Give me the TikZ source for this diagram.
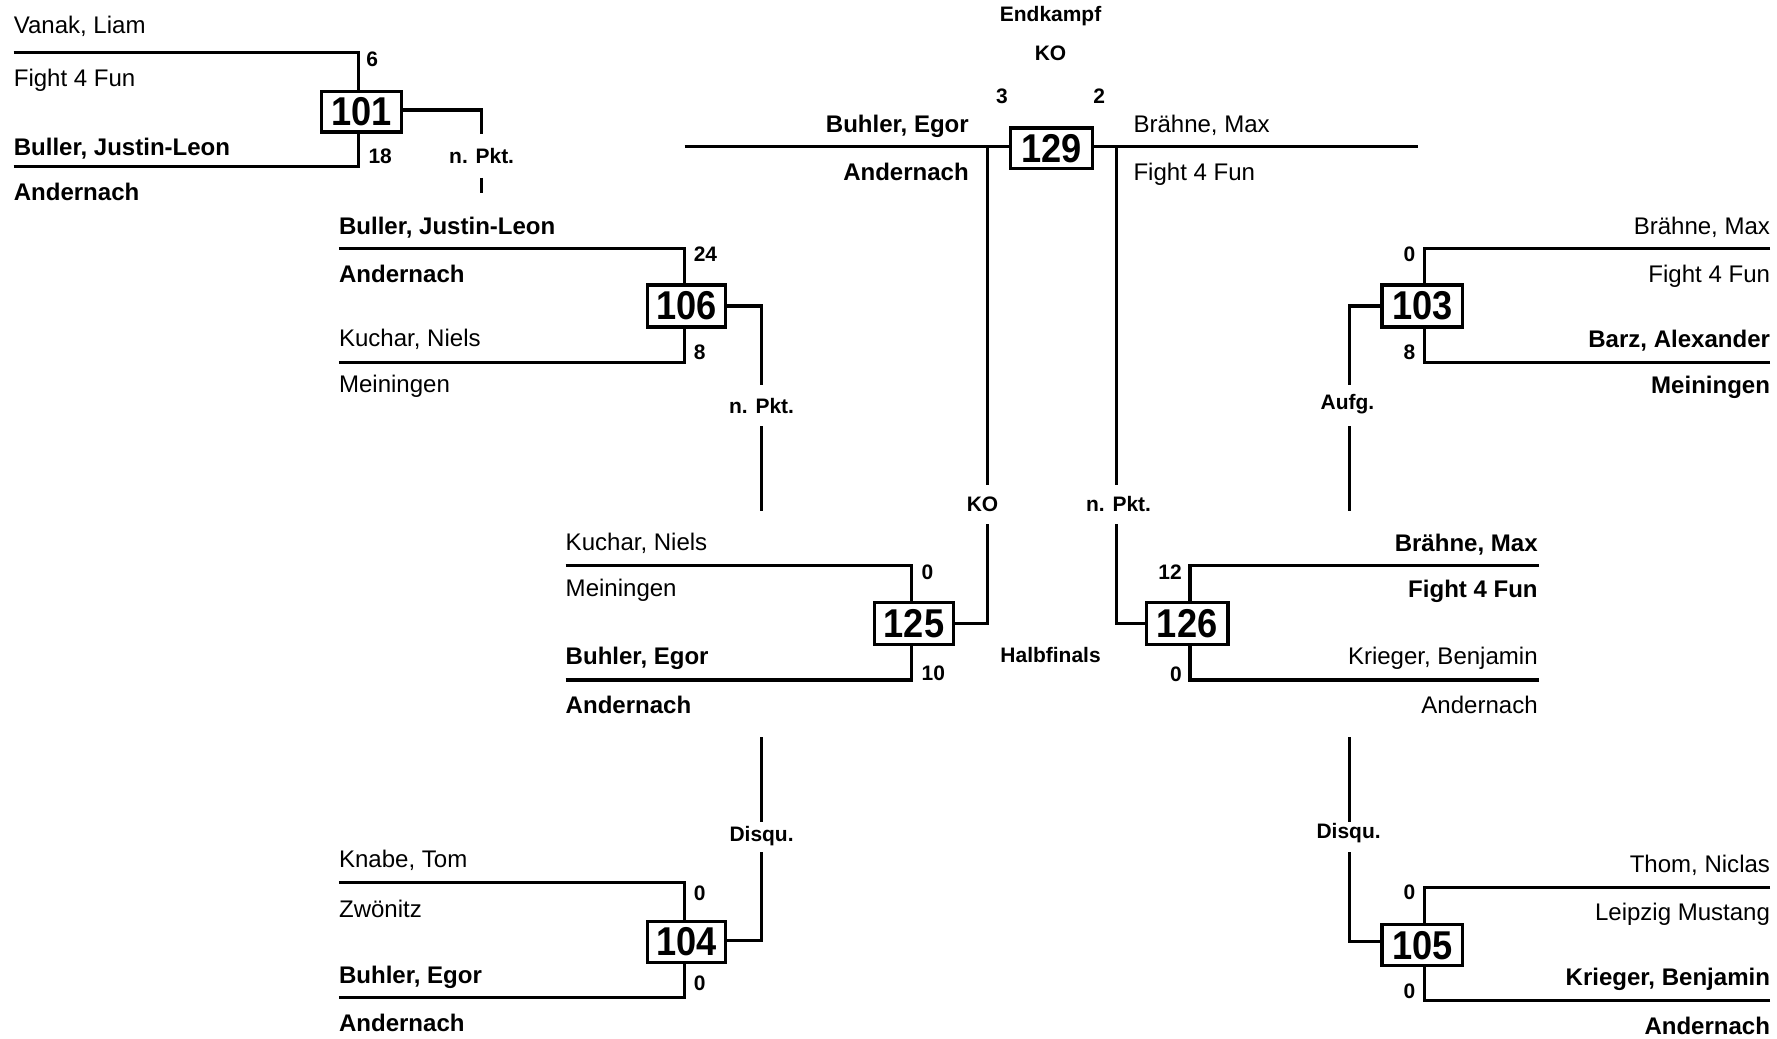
\documentclass[tikz,border=0pt]{standalone}
\usepackage{fontspec}
\setmainfont{Liberation Sans}
\newfontfamily\boxfont[FakeStretch=0.9]{Liberation Sans}
\begin{document}
\begin{tikzpicture}[x=1pt,y=-1pt,
  ln/.style={line width=2.8pt, line join=miter},
  nm/.style={inner sep=0pt, font=\fontsize{21.2}{24}\selectfont},
  nmb/.style={inner sep=0pt, font=\fontsize{21.2}{24}\selectfont\bfseries},
  lb/.style={inner sep=0pt, font=\fontsize{18.5}{21}\selectfont\bfseries},
  mbox/.style={draw, line width=2.8pt, fill=white, inner sep=0pt, minimum width=69pt, minimum height=36pt, font=\boxfont\fontsize{35.5}{40}\selectfont\bfseries},
  L/.style={anchor=base west},
  R/.style={anchor=base east}]
\useasboundingbox (0,0) rectangle (1568,916);

% ---------- line coordinates ----------
% 101
\coordinate (a1) at (12,46);  \coordinate (a2) at (316,46);
\coordinate (a3) at (12,147); \coordinate (a4) at (316,147);
\coordinate (a5) at (425,97); \coordinate (a6) at (425,118);
\coordinate (a7) at (425,157); \coordinate (a8) at (425,170);
% 106
\coordinate (b1) at (299,219); \coordinate (b2) at (604,219);
\coordinate (b3) at (299,320); \coordinate (b4) at (604,320);
\coordinate (b5) at (672,270); \coordinate (b6) at (672,340);
\coordinate (b7) at (672,376); \coordinate (b8) at (672,451);
% 125
\coordinate (c1) at (499,499); \coordinate (c2) at (804,499);
\coordinate (c3) at (499,600); \coordinate (c4) at (804,600);
\coordinate (c5) at (871,550); \coordinate (c6) at (871,462);
\coordinate (c7) at (871,428); \coordinate (c8) at (871,129);
% 104
\coordinate (d1) at (299,779); \coordinate (d2) at (604,779);
\coordinate (d3) at (299,880); \coordinate (d4) at (604,880);
\coordinate (d5) at (672,830); \coordinate (d6) at (672,752);
\coordinate (d7) at (672,725); \coordinate (d8) at (672,650);
% 129
\coordinate (f1) at (604,129); \coordinate (f2) at (1251,129);
\coordinate (f3) at (985,129); \coordinate (f4) at (985,428);
% 126
\coordinate (g1) at (1358,499); \coordinate (g2) at (1050,499);
\coordinate (g3) at (1358,600); \coordinate (g4) at (1050,600);
\coordinate (g5) at (985,550); \coordinate (g6) at (985,462);
% 103
\coordinate (h1) at (1562,219); \coordinate (h2) at (1257,219);
\coordinate (h3) at (1562,320); \coordinate (h4) at (1257,320);
\coordinate (h5) at (1191,270); \coordinate (h6) at (1191,340);
\coordinate (h7) at (1191,376); \coordinate (h8) at (1191,451);
% 105
\coordinate (k1) at (1562,783); \coordinate (k2) at (1257,783);
\coordinate (k3) at (1562,883); \coordinate (k4) at (1257,883);
\coordinate (k5) at (1191,831); \coordinate (k6) at (1191,752);
\coordinate (k7) at (1191,725); \coordinate (k8) at (1191,650);

% ---------- final line under box 129 ----------
\draw[ln] (f1) -- (f2);
\draw[ln] (c8) -- (c7);
\draw[ln] (f3) -- (f4);

% ---------- boxes ----------
\node[mbox, minimum width=70pt] (m101) at (319,98.5) {101};
\node[mbox, minimum width=69pt, minimum height=37pt] (m106) at (605.5,270) {106};
\node[mbox, minimum width=70pt, minimum height=37pt] (m125) at (806.5,550) {125};
\node[mbox, minimum width=69pt] (m104) at (605.5,831) {104};
\node[mbox, minimum width=72pt] (m129) at (928,131) {129};
\node[mbox, minimum width=72pt, minimum height=37pt] (m126) at (1047.5,550) {126};
\node[mbox, minimum width=71pt, minimum height=37pt] (m103) at (1255,270) {103};
\node[mbox, minimum width=71pt] (m105) at (1255,834) {105};

% ---------- bracket lines ----------
\draw[ln] (a1) -- (a2) -- (m101.north -| a2);
\draw[ln] (a3) -- (a4) -- (m101.south -| a4);
\draw[ln] (m101.east |- a5) -- (a5) -- (a6);
\draw[ln] (a7) -- (a8);

\draw[ln] (b1) -- (b2) -- (m106.north -| b2);
\draw[ln] (b3) -- (b4) -- (m106.south -| b4);
\draw[ln] (m106.east |- b5) -- (b5) -- (b6);
\draw[ln] (b7) -- (b8);

\draw[ln] (c1) -- (c2) -- (m125.north -| c2);
\draw[ln] (c3) -- (c4) -- (m125.south -| c4);
\draw[ln] (m125.east |- c5) -- (c5) -- (c6);

\draw[ln] (d1) -- (d2) -- (m104.north -| d2);
\draw[ln] (d3) -- (d4) -- (m104.south -| d4);
\draw[ln] (m104.east |- d5) -- (d5) -- (d6);
\draw[ln] (d7) -- (d8);

\draw[ln] (g1) -- (g2) -- (m126.north -| g2);
\draw[ln] (g3) -- (g4) -- (m126.south -| g4);
\draw[ln] (m126.west |- g5) -- (g5) -- (g6);

\draw[ln] (h1) -- (h2) -- (m103.north -| h2);
\draw[ln] (h3) -- (h4) -- (m103.south -| h4);
\draw[ln] (m103.west |- h5) -- (h5) -- (h6);
\draw[ln] (h7) -- (h8);

\draw[ln] (k1) -- (k2) -- (m105.north -| k2);
\draw[ln] (k3) -- (k4) -- (m105.south -| k4);
\draw[ln] (m105.west |- k5) -- (k5) -- (k6);
\draw[ln] (k7) -- (k8);

% ---------- names ----------
\node[nm,L]  (t1) at (12,29.5)  {Vanak, Liam};
\node[nm,L]  (t2) at (12,76.5)  {Fight 4 Fun};
\node[nmb,L] (t3) at (12,137.5) {Buller, Justin-Leon};
\node[nmb,L] (t4) at (12,176.5) {Andernach};
\node[nmb,L] (t5) at (299,206.5) {Buller, Justin-Leon};
\node[nmb,L] (t6) at (299,249.5) {Andernach};
\node[nm,L]  (t7) at (299,305.5) {Kuchar, Niels};
\node[nm,L]  (t8) at (299,346.5) {Meiningen};
\node[nm,L]  (t9) at (499,485.5) {Kuchar, Niels};
\node[nm,L]  (t10) at (499,526.5) {Meiningen};
\node[nmb,L] (t11) at (499,586.5) {Buhler, Egor};
\node[nmb,L] (t12) at (499,629.5) {Andernach};
\node[nm,L]  (t13) at (299,765.5) {Knabe, Tom};
\node[nm,L]  (t14) at (299,809.5) {Zwönitz};
\node[nmb,L] (t15) at (299,867.5) {Buhler, Egor};
\node[nmb,L] (t16) at (299,910.5) {Andernach};
\node[nm,L]  (t17) at (1000,116.5) {Brähne, Max};
\node[nm,L]  (t18) at (1000,159.5) {Fight 4 Fun};

\node[nmb,R] (u1) at (855,116.5) {Buhler, Egor};
\node[nmb,R] (u2) at (855,159.5) {Andernach};
\node[nmb,R] (u3) at (1357,486.5) {Brähne, Max};
\node[nmb,R] (u4) at (1357,527.5) {Fight 4 Fun};
\node[nm,R]  (u5) at (1357,586.5) {Krieger, Benjamin};
\node[nm,R]  (u6) at (1357,629.5) {Andernach};
\node[nm,R]  (u7) at (1562,206.5) {Brähne, Max};
\node[nm,R]  (u8) at (1562,249.5) {Fight 4 Fun};
\node[nmb,R] (u9) at (1562,306.5) {Barz, Alexander};
\node[nmb,R] (u10) at (1562,347.5) {Meiningen};
\node[nm,R]  (u11) at (1562,769.5) {Thom, Niclas};
\node[nm,R]  (u12) at (1562,812.5) {Leipzig Mustang};
\node[nmb,R] (u13) at (1562,869.5) {Krieger, Benjamin};
\node[nmb,R] (u14) at (1562,912.5) {Andernach};

% ---------- labels ----------
\node[lb] (l1) at (927,14) {Endkampf};
\node[lb] (l2) at (927,47) {KO};
\node[lb] (l3) at (884,85) {3};
\node[lb] (l4) at (970,85) {2};
\node[lb] (l5) at (425,138) {n. Pkt.};
\node[lb] (l6) at (672,358) {n. Pkt.};
\node[lb] (l7) at (867,445) {KO};
\node[lb] (l8) at (987,445) {n. Pkt.};
\node[lb] (l9) at (1189,357) {Aufg.};
\node[lb] (l10) at (927,578) {Halbfinals};
\node[lb] (l11) at (672,738) {Disqu.};
\node[lb] (l12) at (1190,735) {Disqu.};

% ---------- scores ----------
\node[lb,anchor=west] (s1) at (323,52) {6};
\node[lb,anchor=west] (s2) at (325,138) {18};
\node[lb,anchor=west] (s3) at (612,224) {24};
\node[lb,anchor=west] (s4) at (612,311) {8};
\node[lb,anchor=west] (s5) at (813,505) {0};
\node[lb,anchor=west] (s6) at (813,594) {10};
\node[lb,anchor=west] (s7) at (612,788) {0};
\node[lb,anchor=west] (s8) at (612,868) {0};
\node[lb,anchor=east] (s9) at (1249,224) {0};
\node[lb,anchor=east] (s10) at (1249,311) {8};
\node[lb,anchor=east] (s11) at (1043,505) {12};
\node[lb,anchor=east] (s12) at (1043,595) {0};
\node[lb,anchor=east] (s13) at (1249,787) {0};
\node[lb,anchor=east] (s14) at (1249,875) {0};
\end{tikzpicture}
\end{document}
